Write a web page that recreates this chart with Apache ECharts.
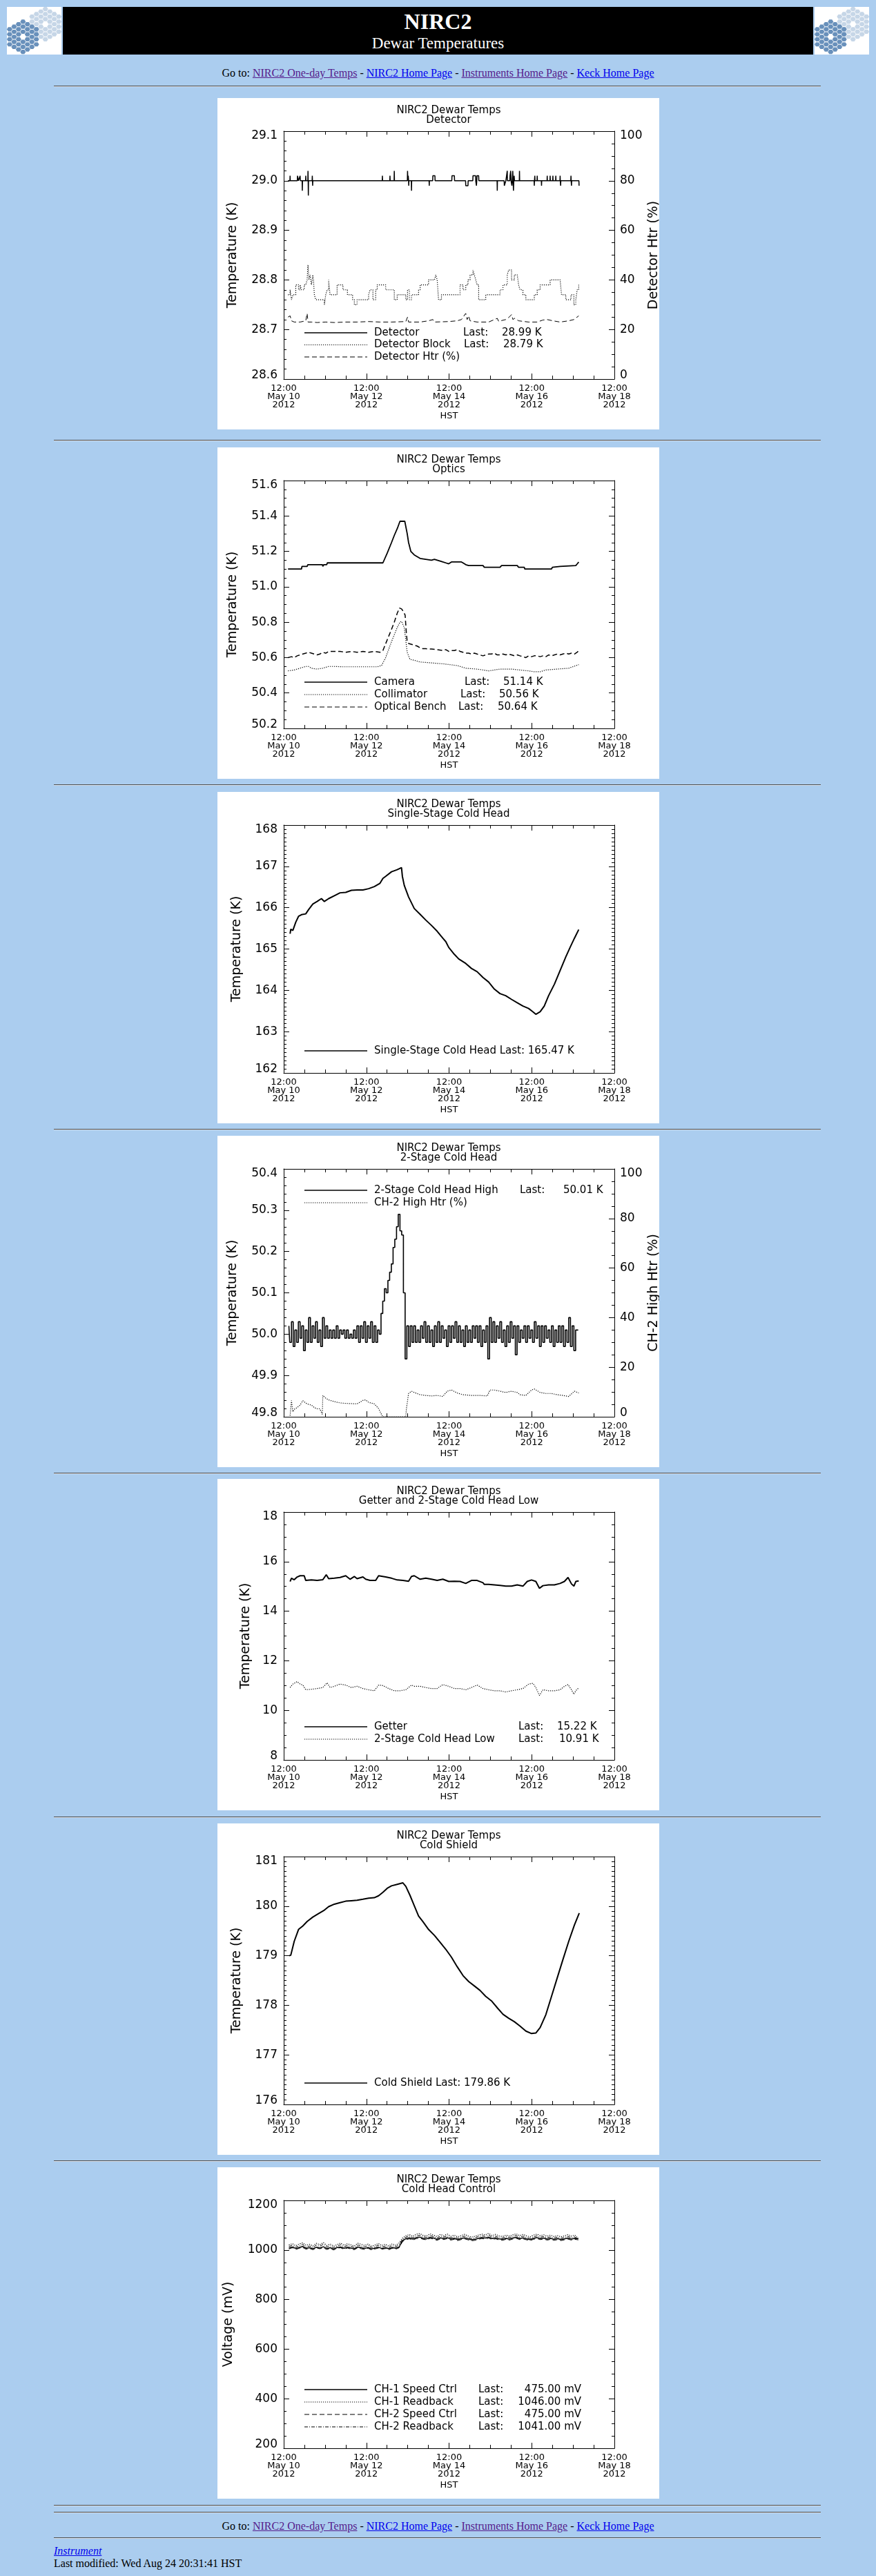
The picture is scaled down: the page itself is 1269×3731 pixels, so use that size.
<!DOCTYPE html>
<html>
<head>
<meta charset="utf-8">
<title>NIRC2 Dewar Temperatures</title>
<script src="https://cdn.jsdelivr.net/npm/echarts/dist/echarts.min.js"></script>
<style>
body{margin:0;background:#abcdef;font-family:"Liberation Serif","Times New Roman",serif;color:#000;}
#page{position:relative;width:1269px;height:3731px;overflow:hidden;}
.logo{position:absolute;top:10px;width:79px;height:69px;background:#fff;}
.banner{position:absolute;left:91px;top:10px;width:1087px;height:69px;background:#000;color:#fff;}
.t1{position:absolute;left:0;width:100%;top:5px;text-align:center;font-weight:bold;font-size:32px;line-height:32px;}
.t2{position:absolute;left:0;width:100%;top:41px;text-align:center;font-size:23px;line-height:23px;}
.goto{position:absolute;left:0;width:1269px;text-align:center;font-size:16px;line-height:16px;}
.foot{position:absolute;left:78px;font-size:16px;line-height:16px;}
a{color:#0000ee;text-decoration:underline;}
a.v{color:#551a8b;}
.hr{position:absolute;left:78px;width:1111px;height:0;border-top:1px solid #505050;border-bottom:1px solid #d4dce6;}
.chart{position:absolute;left:315px;width:640px;height:480px;background:#fff;}
</style>
</head>
<body>
<div id="page">
  <div class="logo" id="logoL" style="left:10px"></div>
  <div class="banner"><div class="t1">NIRC2</div><div class="t2">Dewar Temperatures</div></div>
  <div class="logo" id="logoR" style="left:1180px"></div>
  <div class="goto" style="top:98px">Go to: <a class="v" href="#">NIRC2 One-day Temps</a> - <a href="#">NIRC2 Home Page</a> - <a class="v" href="#">Instruments Home Page</a> - <a href="#">Keck Home Page</a></div>
  <div class="goto" style="top:3651px">Go to: <a class="v" href="#">NIRC2 One-day Temps</a> - <a href="#">NIRC2 Home Page</a> - <a class="v" href="#">Instruments Home Page</a> - <a href="#">Keck Home Page</a></div>
  <div class="foot" style="top:3687px"><a href="#"><i>Instrument</i></a></div>
  <div class="foot" style="top:3705px">Last modified: Wed Aug 24 20:31:41 HST</div>
</div>
<script>
// ---- data (hours since 12:00 May 10 2012) ----
var xTickLabels = ['12:00\nMay 10\n2012', '12:00\nMay 12\n2012', '12:00\nMay 14\n2012', '12:00\nMay 16\n2012', '12:00\nMay 18\n2012'];

// Detector
var detectorK = [
  [2.5,29.00],[3.6,29.00],[3.7,29.01],[3.8,29.00],
  [7.9,29.00],[8.0,29.01],[8.5,29.01],[8.6,29.00],[9.4,29.00],[9.5,29.01],[9.7,29.00],
  [10.7,29.00],[10.8,28.98],[10.9,29.00],[12.7,29.00],[12.8,29.01],[12.9,29.00],
  [14.0,29.00],[14.1,29.02],[14.2,29.00],[14.3,28.97],[14.4,29.00],
  [16.5,29.00],[16.6,29.01],[16.7,29.00],[16.8,28.99],[16.9,29.00],
  [57.2,29.00],[57.3,29.01],[57.4,29.00],[61.6,29.00],[61.7,29.01],[61.8,29.00],
  [64.1,29.00],[64.2,29.02],[64.3,29.00],
  [71.8,29.00],[71.9,29.02],[72.1,29.00],[72.3,29.01],[72.5,29.00],[72.6,28.99],[72.7,29.00],
  [74.1,29.00],[74.2,28.98],[74.3,29.00],[84.4,29.00],[84.5,28.99],[84.6,29.00],
  [86.5,29.00],[86.6,29.01],[87.8,29.01],[87.9,29.00],[97.6,29.00],[97.7,29.01],[99.1,29.01],[99.2,29.00],
  [105.6,29.00],[105.7,28.99],[107.0,28.99],[107.1,29.00],
  [109.8,29.00],[109.9,29.01],[111.4,29.01],[111.5,29.00],[111.9,28.99],[112.1,29.00],[112.2,29.01],[113.2,29.01],[113.3,29.00],
  [123.9,29.00],[124.0,28.98],[124.1,29.00],[128.0,29.00],[128.1,28.99],[128.9,28.99],[129.0,29.00],
  [129.7,29.00],[129.8,29.02],[129.9,29.00],
  [131.3,29.00],[131.4,29.01],[131.8,29.02],[132.0,29.00],[132.5,28.99],[132.7,29.00],[133.0,29.02],[133.2,29.00],[133.4,28.98],[133.6,29.00],[133.8,29.01],[134.0,29.00],
  [136.8,29.00],[136.9,29.02],[137.0,29.00],
  [145.4,29.00],[145.5,28.99],[145.6,29.00],[145.8,29.01],[145.9,29.00],[147.1,29.00],[147.2,29.01],[147.3,29.00],
  [149.6,29.00],[149.7,28.99],[149.8,29.00],
  [152.9,29.00],[153.0,29.01],[153.1,29.00],[154.6,29.00],[154.7,29.01],[154.8,29.00],[156.2,29.00],[156.3,29.01],[156.4,29.00],[157.9,29.00],[158.0,29.01],[158.1,29.00],
  [160.4,29.00],[160.5,29.01],[160.6,29.00],[160.8,28.99],[160.9,29.00],
  [166.7,29.00],[166.8,29.01],[166.9,29.00],[167.1,28.99],[167.2,29.00],
  [171.4,29.00],[171.5,28.99],[171.6,28.99]
];
var detBlockK = [
  [2.5,28.77],[3.7,28.78],[4.5,28.76],[5.3,28.77],[6.1,28.77],[7.0,28.79],[7.8,28.79],[8.6,28.78],[9.5,28.79],[10.3,28.78],
  [11.1,28.78],[11.9,28.79],[12.8,28.79],[13.6,28.80],[14.1,28.83],[14.6,28.80],[15.3,28.81],[16.1,28.79],[16.9,28.81],[17.3,28.80],
  [17.8,28.77],[18.6,28.76],[19.4,28.76],[21.0,28.76],[22.7,28.76],[23.6,28.75],[24.4,28.77],[25.2,28.78],[26.1,28.80],[26.9,28.77],
  [28.5,28.77],[29.4,28.77],[31.0,28.79],[32.7,28.79],[34.4,28.78],[36.0,28.78],[37.0,28.77],[38.5,28.77],[40.0,28.76],[41.0,28.75],
  [42.6,28.76],[44.3,28.76],[46.0,28.76],[47.6,28.76],[49.3,28.77],[50.1,28.78],[51.8,28.76],[53.4,28.78],[54.3,28.79],[55.9,28.79],
  [57.6,28.79],[59.2,28.78],[60.9,28.78],[62.6,28.78],[64.2,28.76],[65.9,28.77],[67.5,28.77],[69.2,28.77],[70.9,28.76],[71.9,28.78],
  [73.0,28.76],[74.2,28.77],[75.8,28.77],[76.7,28.77],[78.3,28.78],[79.2,28.79],[80.8,28.79],[82.5,28.79],[84.1,28.80],[85.0,28.80],
  [86.6,28.80],[87.5,28.80],[88.3,28.81],[89.1,28.80],[89.9,28.76],[91.6,28.77],[92.4,28.77],[95.8,28.77],[97.4,28.77],[99.1,28.77],
  [100.7,28.77],[102.4,28.79],[103.2,28.79],[104.1,28.78],[105.7,28.79],[107.0,28.80],[108.2,28.81],[109.9,28.82],[110.7,28.81],[111.5,28.80],
  [112.3,28.79],[113.2,28.76],[114.0,28.76],[115.7,28.76],[117.3,28.77],[119.0,28.77],[120.6,28.77],[122.3,28.77],[124.0,28.77],[125.6,28.78],
  [127.3,28.79],[128.9,28.79],[129.8,28.81],[130.6,28.82],[131.4,28.82],[132.3,28.80],[133.1,28.80],[133.9,28.81],[135.6,28.81],[136.4,28.79],
  [137.2,28.78],[138.9,28.77],[140.6,28.76],[142.2,28.76],[143.9,28.76],[145.5,28.77],[147.2,28.78],[148.0,28.78],[148.9,28.79],[150.5,28.79],
  [152.2,28.79],[153.0,28.79],[154.7,28.80],[155.5,28.80],[156.3,28.80],[158.0,28.80],[158.8,28.80],[160.5,28.80],[161.3,28.77],[162.1,28.77],
  [163.8,28.76],[165.5,28.76],[166.8,28.77],[167.6,28.77],[168.5,28.75],[169.6,28.76],[170.4,28.78],[171.3,28.79]
];
var detHtrPct = [
  [2.5,25],[3.7,25.5],[4.5,23.5],[6.1,23],[9.5,23],[12.8,23.5],[13.6,26.5],[14.1,23],[16.1,23],[19.4,22.8],
  [24.4,23],[29.4,22.8],[36.0,23],[42.6,23],[49.3,23.2],[55.9,23],[62.6,23],[70.9,23.2],[71.9,25],[72.5,23],
  [79.2,23],[84.1,23.5],[86.6,24],[87.5,23],[95.8,23.2],[100.7,23.5],[103.2,24],[105.7,26.5],[106.5,24],[107.4,25.5],
  [108.2,23.5],[112.3,23],[119.0,23],[124.0,24.5],[124.8,23.3],[128.9,24],[130.6,24.8],[132.3,26],[133.1,24],[134.0,24.5],
  [136.4,23.5],[142.2,23],[147.2,23],[150.5,23.8],[153.0,24],[156.3,23.5],[160.5,23],[165.5,23.5],[168.5,24],[171.3,25.5]
];

// Optics
var cameraK = [
  [2.5,51.10],[4.0,51.10],[4.5,51.095],[5.0,51.10],[10.3,51.10],[10.6,51.115],[13.6,51.115],[14.0,51.125],[22.5,51.125],[22.7,51.115],
  [23.3,51.125],[25.0,51.125],[25.3,51.135],[57.6,51.135],[60.1,51.19],[62.6,51.25],[64.2,51.29],[66.0,51.33],[67.5,51.37],[70.3,51.37],
  [71.7,51.30],[72.5,51.25],[73.8,51.20],[75.8,51.18],[79.2,51.16],[82.5,51.155],[85.8,51.15],[87.5,51.155],[90.8,51.145],[92.4,51.14],
  [94.1,51.135],[95.8,51.13],[96.4,51.135],[97.4,51.14],[100.7,51.14],[101.5,51.145],[103.2,51.14],[104.1,51.135],[105.7,51.125],[107.4,51.12],
  [115.7,51.12],[116.5,51.11],[125.6,51.11],[126.5,51.12],[135.6,51.12],[136.4,51.11],[139.7,51.11],[140.0,51.10],[155.5,51.10],[156.0,51.11],
  [160.5,51.115],[161.0,51.12],[169.6,51.12],[170.5,51.13],[171.3,51.14]
];
var collimatorK = [
  [2.5,50.525],[6.1,50.53],[9.5,50.54],[12.8,50.55],[14.4,50.55],[16.1,50.54],[19.4,50.535],[22.7,50.54],[26.1,50.55],[29.4,50.55],
  [34.4,50.548],[39.3,50.548],[44.3,50.548],[49.3,50.548],[54.3,50.548],[56.8,50.555],[59.2,50.60],[62.6,50.69],[65.9,50.77],[67.5,50.80],
  [68.4,50.805],[70.0,50.77],[71.7,50.63],[73.3,50.59],[75.8,50.585],[79.2,50.575],[85.8,50.57],[92.4,50.565],[100.7,50.555],[105.7,50.54],
  [112.3,50.535],[119.0,50.525],[125.6,50.535],[132.3,50.535],[138.9,50.528],[142.2,50.525],[145.5,50.52],[148.9,50.52],[152.2,50.53],[158.8,50.535],
  [165.5,50.54],[171.3,50.56]
];
var benchK = [
  [2.5,50.60],[4.5,50.605],[6.1,50.60],[7.8,50.61],[9.5,50.615],[11.1,50.62],[12.8,50.625],[14.4,50.63],[16.1,50.625],[17.8,50.62],
  [19.4,50.615],[21.0,50.62],[22.7,50.63],[24.4,50.625],[26.1,50.635],[29.4,50.635],[32.7,50.635],[36.0,50.63],[39.3,50.635],[42.6,50.63],
  [46.0,50.635],[49.3,50.63],[52.6,50.635],[55.9,50.63],[57.6,50.64],[60.1,50.70],[62.6,50.76],[64.2,50.80],[65.9,50.85],[67.2,50.88],
  [68.4,50.875],[69.5,50.86],[70.5,50.84],[71.2,50.74],[71.7,50.69],[72.5,50.68],[74.2,50.675],[75.8,50.67],[77.5,50.665],[79.2,50.655],
  [80.8,50.65],[82.5,50.65],[85.8,50.648],[89.1,50.645],[92.4,50.64],[94.1,50.645],[95.8,50.635],[97.4,50.64],[99.1,50.64],[100.7,50.645],
  [102.4,50.635],[104.1,50.63],[105.7,50.625],[107.4,50.625],[109.0,50.62],[110.7,50.625],[112.3,50.62],[114.0,50.615],[115.7,50.61],[117.3,50.615],
  [119.0,50.62],[120.6,50.62],[122.3,50.625],[124.0,50.615],[125.6,50.615],[127.3,50.62],[129.0,50.615],[130.6,50.62],[132.3,50.615],[134.0,50.61],
  [135.6,50.615],[137.2,50.61],[139.0,50.605],[140.6,50.60],[142.2,50.61],[143.9,50.605],[145.5,50.61],[147.2,50.61],[148.9,50.605],[150.5,50.61],
  [152.2,50.605],[153.8,50.615],[155.5,50.61],[157.2,50.615],[158.8,50.62],[160.5,50.615],[162.1,50.62],[163.8,50.625],[165.5,50.62],[167.1,50.625],
  [168.8,50.62],[170.4,50.63],[171.3,50.64]
];

// Single-stage cold head
var singleStageK = [
  [3.7,165.37],[4.1,165.48],[5.3,165.45],[7.0,165.65],[8.6,165.79],[10.3,165.83],[12.8,165.85],[14.4,165.95],[16.9,166.09],[19.4,166.15],
  [21.9,166.22],[23.6,166.15],[26.1,166.22],[29.4,166.29],[32.7,166.36],[36.0,166.37],[39.3,166.42],[42.6,166.43],[46.0,166.43],[49.3,166.46],
  [52.6,166.51],[55.9,166.59],[57.6,166.71],[59.2,166.76],[62.6,166.87],[65.9,166.92],[68.4,166.97],[68.9,166.76],[70.0,166.54],[72.5,166.26],
  [75.8,165.98],[79.2,165.84],[82.5,165.70],[85.8,165.57],[89.1,165.43],[92.4,165.26],[94.1,165.18],[95.8,165.04],[99.1,164.87],[101.6,164.76],
  [105.7,164.65],[109.0,164.53],[112.3,164.45],[115.7,164.31],[119.0,164.20],[122.3,164.03],[125.6,163.92],[128.9,163.87],[132.3,163.78],[135.6,163.70],
  [138.9,163.62],[142.2,163.56],[144.7,163.48],[146.4,163.42],[148.9,163.48],[151.3,163.62],[153.8,163.87],[157.2,164.15],[160.5,164.48],[163.8,164.81],
  [166.3,165.04],[168.8,165.26],[171.3,165.47]
];

// 2-stage cold head high, hourly from hour 3
var coldHighStart = 3;
var coldHighK = [
  50.02,49.98,50.03,49.97,50.01,49.98,50.03,49.99,50.02,49.96,
  50.01,49.98,50.04,49.98,50.02,49.99,50.03,49.98,50.01,49.97,
  50.04,49.99,50.02,49.99,50.01,49.99,50.01,49.99,50.02,49.99,
  50.01,50.00,50.01,49.99,50.01,49.99,50.00,49.99,50.01,49.99,
  50.02,49.98,50.02,49.99,50.03,49.98,50.02,49.99,50.03,49.98,
  50.02,49.98,50.01,
  50.00,50.05,50.08,50.11,50.10,50.13,50.15,50.17,50.21,50.23,50.26,50.29,50.25,50.24,50.10,
  49.94,50.02,49.97,50.02,49.98,50.02,49.98,50.01,49.98,50.02,
  49.99,50.03,49.98,50.02,49.98,50.01,49.97,50.02,49.98,50.03,
  49.98,50.02,49.99,50.01,49.97,50.02,49.98,50.02,49.99,50.03,
  49.98,50.02,49.98,50.01,49.97,50.02,49.98,50.01,49.98,50.02,
  49.99,50.02,49.98,50.02,49.97,50.01,49.98,50.02,49.94,50.04,
  49.98,50.03,49.98,50.02,49.99,50.03,49.98,50.01,49.97,50.02,
  49.98,50.03,49.99,50.02,49.95,50.02,49.98,50.01,49.99,50.02,
  49.98,50.02,49.99,50.01,49.98,50.03,49.99,50.02,49.97,50.02,
  49.98,50.02,49.99,50.01,49.98,50.02,49.97,50.01,49.98,50.02,
  49.98,50.02,49.97,50.01,49.98,50.04,49.97,50.02,49.96,50.01,
  50.01
];
var ch2HtrPct = [
  [3.7,0.5],[4.5,6.5],[5.3,2],[6.1,3],[7.8,3.7],[9.5,4.7],[11.1,6.5],[12.8,5.5],[14.4,5],[16.1,4.7],
  [17.8,3.7],[19.4,3.2],[21.0,3.2],[22.4,1],[22.7,8.6],[24.4,7.5],[26.1,6.8],[29.4,6.1],[32.7,5.6],[36.0,5.4],
  [39.3,5.3],[42.6,5.2],[46.0,6.6],[47.6,6.8],[49.3,5.8],[52.6,5.2],[55.1,3.3],[56.8,0.9],[57.6,0],[70.9,0],
  [71.2,3],[72.5,9.4],[74.2,10.3],[75.8,9.8],[79.2,8.9],[82.5,8.6],[85.8,8.4],[89.1,8.6],[92.4,8.2],[94.9,10.3],
  [97.4,10.8],[100.7,9.6],[104.1,8.9],[109.0,8.6],[114.0,8.6],[118.2,8.4],[119.8,10.8],[122.3,10.8],[125.6,10.3],[128.9,9.8],
  [132.3,10.3],[135.6,9.8],[137.2,8.9],[140.6,8.6],[143.9,10.8],[145.5,11.2],[148.9,9.8],[152.2,9.4],[155.5,9.4],[158.8,8.9],
  [162.1,8.6],[165.5,8.2],[168.8,10.3],[171.3,9.6]
];

// Getter and 2-stage cold head low
var getterK = [
  [3.7,15.20],[4.5,15.33],[6.1,15.27],[7.8,15.38],[9.5,15.43],[11.9,15.43],[12.8,15.24],[16.1,15.26],[19.4,15.24],[22.7,15.27],
  [24.7,15.47],[26.1,15.31],[29.4,15.33],[32.7,15.36],[36.0,15.43],[38.5,15.29],[41.0,15.40],[42.6,15.31],[46.0,15.38],[47.6,15.29],
  [50.1,15.24],[53.4,15.24],[55.1,15.43],[59.2,15.38],[62.6,15.33],[65.9,15.26],[69.2,15.24],[72.5,15.21],[74.2,15.40],[75.8,15.43],
  [79.2,15.29],[82.5,15.33],[85.8,15.29],[89.1,15.24],[92.4,15.29],[95.8,15.20],[99.1,15.21],[102.4,15.20],[105.7,15.12],[109.0,15.24],
  [112.3,15.24],[115.7,15.15],[116.5,15.08],[119.0,15.08],[122.3,15.06],[125.6,15.04],[128.9,15.01],[132.3,15.01],[135.6,15.06],[138.9,15.01],
  [141.4,15.20],[143.9,15.26],[146.4,15.20],[148.5,14.92],[150.5,15.03],[153.8,15.06],[157.2,15.06],[160.5,15.12],[163.0,15.20],[165.1,15.36],
  [167.1,15.10],[168.5,15.01],[169.6,15.20],[171.3,15.22]
];
var coldLowK = [
  [3.7,10.92],[5.3,11.06],[7.8,11.16],[9.5,11.06],[11.1,11.02],[12.8,10.83],[16.1,10.85],[19.4,10.88],[22.7,10.92],[25.2,11.11],
  [26.9,10.92],[29.4,10.97],[32.7,11.06],[36.0,11.02],[39.3,10.92],[42.6,10.97],[46.0,10.88],[49.3,10.83],[52.6,10.79],[55.1,11.02],
  [57.6,11.00],[60.9,10.88],[64.2,10.79],[67.5,10.79],[70.9,10.83],[74.2,11.02],[75.8,10.97],[79.2,10.97],[82.5,10.92],[85.8,10.88],
  [89.1,10.88],[92.4,11.04],[95.8,10.97],[99.1,10.88],[102.4,10.88],[105.7,10.83],[109.0,10.92],[112.3,11.02],[115.7,10.88],[119.0,10.83],
  [122.3,10.79],[125.6,10.79],[128.9,10.74],[132.3,10.79],[135.6,10.83],[138.9,10.88],[142.2,11.06],[144.7,11.09],[146.4,10.92],[148.5,10.60],
  [150.5,10.83],[153.8,10.79],[157.2,10.79],[160.5,10.83],[163.0,10.97],[165.1,11.04],[167.1,10.83],[168.5,10.65],[169.6,10.79],[171.3,10.91]
];

// Cold shield
var coldShieldK = [
  [3.2,179.00],[4.1,179.01],[6.1,179.29],[8.6,179.53],[11.1,179.60],[13.6,179.69],[16.9,179.78],[20.2,179.85],[23.6,179.92],[26.1,179.99],
  [29.4,180.04],[32.7,180.07],[36.0,180.10],[39.3,180.11],[42.6,180.12],[46.0,180.14],[49.3,180.16],[52.6,180.17],[55.1,180.21],[57.6,180.28],
  [60.1,180.36],[62.6,180.41],[65.9,180.44],[69.2,180.47],[70.9,180.40],[73.3,180.22],[75.8,180.01],[78.3,179.80],[80.8,179.69],[84.1,179.53],
  [87.5,179.41],[90.8,179.27],[94.1,179.13],[97.4,178.97],[100.7,178.78],[104.1,178.60],[107.4,178.48],[110.7,178.39],[114.0,178.30],[117.3,178.18],
  [120.6,178.09],[124.0,177.95],[127.3,177.82],[130.6,177.74],[133.9,177.67],[137.2,177.58],[140.6,177.48],[143.9,177.43],[146.4,177.44],[148.9,177.55],
  [152.2,177.81],[155.5,178.18],[158.8,178.55],[162.1,178.92],[165.5,179.29],[168.8,179.62],[171.6,179.86]
];

// Cold head control, every 2 hours from hour 3
var ctrlStart = 3, ctrlStep = 2;
var ch1SpeedMv = [
  1008,1012,1006,1010,1014,1007,1009,1005,1011,1008,1013,1006,1009,1004,1010,1012,1007,1011,1008,1005,
  1012,1009,1006,1010,1004,1008,1011,1006,1009,1005,1010,1007,1012,
  1038,1046,1049,1044,1050,1052,1047,1045,1051,1048,1043,1049,1046,1050,1044,1047,1042,1046,1049,1045,
  1041,1043,1047,1050,1048,1052,1046,1049,1045,1043,1047,1044,1048,1051,1046,1049,1045,1042,1047,1050,
  1046,1048,1044,1047,1043,1046,1042,1045,1048,1044,1047,1046
];
var ch1ReadMv = [
  1020,1026,1017,1024,1029,1019,1023,1016,1027,1021,1030,1018,1024,1015,1022,1028,1019,1025,1021,1016,
  1027,1023,1018,1024,1015,1020,1026,1018,1023,1016,1025,1019,1028,
  1048,1058,1062,1055,1064,1066,1059,1057,1065,1060,1054,1063,1058,1064,1055,1060,1053,1058,1063,1057,
  1052,1055,1060,1064,1061,1067,1058,1063,1057,1054,1060,1056,1061,1065,1058,1063,1057,1053,1060,1064,
  1058,1061,1056,1060,1054,1058,1053,1057,1062,1056,1060,1046
];
var ch2SpeedMv = [
  1004,1009,1002,1007,1010,1003,1006,1001,1008,1005,1009,1002,1006,1000,1007,1009,1003,1008,1004,1001,
  1009,1005,1002,1007,1000,1004,1008,1003,1006,1001,1007,1003,1009,
  1034,1042,1045,1040,1046,1048,1043,1041,1047,1044,1039,1045,1042,1046,1040,1043,1038,1042,1045,1041,
  1037,1039,1043,1046,1044,1048,1042,1045,1041,1039,1043,1040,1044,1047,1042,1045,1041,1038,1043,1046,
  1042,1044,1040,1043,1039,1042,1038,1041,1044,1040,1043,1041
];
var ch2ReadMv = [
  1014,1019,1011,1017,1022,1013,1016,1010,1020,1015,1023,1012,1017,1009,1016,1021,1013,1018,1015,1010,
  1020,1016,1012,1018,1009,1014,1019,1012,1016,1010,1018,1013,1021,
  1043,1052,1056,1049,1057,1059,1053,1051,1058,1054,1048,1056,1052,1057,1049,1053,1047,1052,1056,1050,
  1046,1049,1054,1057,1055,1060,1052,1056,1050,1048,1054,1050,1055,1058,1052,1056,1050,1047,1053,1057,
  1052,1054,1050,1053,1048,1052,1047,1051,1055,1050,1053,1041
];

// ---- helpers ----
var FONT = '"DejaVu Sans", sans-serif';
var SOLID = 'solid', DOT = [1.2, 1.8], DASH = [7, 4], DASHDOT = [5, 2, 1, 2];

function sampled(start, step, vals) {
  return vals.map(function (v, i) { return [start + i * step, v]; });
}

function xAxes() {
  function one(pos, withLabels) {
    return {
      type: 'value', position: pos, min: 0, max: 192, interval: 48,
      axisLine: {show: true, onZero: false, lineStyle: {color: '#000', width: 1}},
      axisTick: {show: true, inside: true, length: 8, lineStyle: {color: '#000', width: 1}},
      minorTick: {show: true, splitNumber: 4, length: 5, lineStyle: {color: '#000', width: 1}},
      splitLine: {show: false}, minorSplitLine: {show: false},
      axisLabel: withLabels ? {
        show: true, margin: 8, color: '#000', fontFamily: FONT, fontSize: 13, lineHeight: 12,
        formatter: function (v) { return xTickLabels[Math.round(v / 48)]; }
      } : {show: false},
      name: withLabels ? 'HST' : '', nameLocation: 'middle', nameGap: 47, nameMoveOverlap: false,
      nameTextStyle: {color: '#000', fontFamily: FONT, fontSize: 13}
    };
  }
  return [one('bottom', true), one('top', false)];
}

function yAxis(c, pos, withLabels) {
  var rich = {
    t: {padding: [14, 0, 0, 0], color: '#000', fontFamily: FONT, fontSize: 17},
    b: {padding: [0, 0, 10, 0], color: '#000', fontFamily: FONT, fontSize: 17}
  };
  return {
    type: 'value', position: pos, min: c.min, max: c.max, interval: c.interval,
    axisLine: {show: true, onZero: false, lineStyle: {color: '#000', width: 1}},
    axisTick: {show: true, inside: true, length: 8, lineStyle: {color: '#000', width: 1}},
    minorTick: {show: true, splitNumber: c.minor, length: 4, lineStyle: {color: '#000', width: 1}},
    splitLine: {show: false}, minorSplitLine: {show: false},
    axisLabel: withLabels ? {
      show: true, margin: pos === 'left' ? 9 : 8, color: '#000', fontFamily: FONT, fontSize: 17, rich: rich,
      formatter: function (v) {
        var s = v.toFixed(c.dec);
        if (Math.abs(v - c.max) < 1e-6) return '{t|' + s + '}';
        if (Math.abs(v - c.min) < 1e-6) return '{b|' + s + '}';
        return s;
      }
    } : {show: false},
    name: withLabels ? c.name : '', nameLocation: 'middle', nameGap: c.gap, nameRotate: 90, nameMoveOverlap: false,
    nameTextStyle: {color: '#000', fontFamily: FONT, fontSize: 19}
  };
}

function txt(x, y, s, align) {
  return {
    type: 'text', x: x, y: y, silent: true,
    style: {text: s, fill: '#000', font: '15px ' + FONT, align: align, verticalAlign: 'middle',
            textAlign: align, textVerticalAlign: 'middle'}
  };
}

function buildGraphics(sub, rows) {
  var els = [txt(335, 18, 'NIRC2 Dewar Temps', 'center'), txt(335, 32, sub, 'center')];
  rows.forEach(function (r) {
    els.push({
      type: 'line', silent: true, shape: {x1: 126, y1: r.y, x2: 217, y2: r.y},
      style: {stroke: '#000', lineWidth: r.dash === SOLID ? 1.5 : 1.2, lineDash: r.dash === SOLID ? null : r.dash}
    });
    els.push(txt(227, r.y, r.name, 'left'));
    if (r.lastX) els.push(txt(r.lastX, r.y, 'Last:', 'left'));
    if (r.value) els.push(txt(r.valueX, r.y, r.value, r.valueAlign || 'left'));
  });
  return els;
}

function lineSeries(data, yIdx, dash, width, step) {
  return {
    type: 'line', data: data, xAxisIndex: 0, yAxisIndex: yIdx, showSymbol: false, symbol: 'none',
    silent: true, animation: false, z: dash === SOLID ? 4 : 3, step: step || false,
    lineStyle: {color: '#000', width: width, type: dash}
  };
}

var charts = [
  {top: 142, sub: 'Detector',
   y: {min: 28.6, max: 29.1, interval: 0.1, minor: 5, dec: 1, name: 'Temperature (K)', gap: 64},
   y2: {min: 0, max: 100, interval: 20, minor: 4, dec: 0, name: 'Detector Htr (%)', gap: 48},
   series: [lineSeries(detBlockK, 0, DOT, 1.2, 'end'), lineSeries(detHtrPct, 1, DASH, 1), lineSeries(detectorK, 0, SOLID, 1.5)],
   legend: [
     {y: 340, dash: SOLID, name: 'Detector', lastX: 356, value: '28.99 K', valueX: 412},
     {y: 357.5, dash: DOT, name: 'Detector Block', lastX: 357, value: '28.79 K', valueX: 414},
     {y: 375, dash: DASH, name: 'Detector Htr (%)'}
   ]},
  {top: 648, sub: 'Optics',
   y: {min: 50.2, max: 51.6, interval: 0.2, minor: 4, dec: 1, name: 'Temperature (K)', gap: 64},
   series: [lineSeries(collimatorK, 0, DOT, 1.2), lineSeries(benchK, 0, DASH, 1.5), lineSeries(cameraK, 0, SOLID, 1.8)],
   legend: [
     {y: 340, dash: SOLID, name: 'Camera', lastX: 358, value: '51.14 K', valueX: 414},
     {y: 358, dash: DOT, name: 'Collimator', lastX: 352, value: '50.56 K', valueX: 408},
     {y: 376, dash: DASH, name: 'Optical Bench', lastX: 349, value: '50.64 K', valueX: 406}
   ]},
  {top: 1147, sub: 'Single-Stage Cold Head',
   y: {min: 162, max: 168, interval: 1, minor: 10, dec: 0, name: 'Temperature (K)', gap: 58},
   series: [lineSeries(singleStageK, 0, SOLID, 2)],
   legend: [{y: 375, dash: SOLID, name: 'Single-Stage Cold Head Last: 165.47 K'}]},
  {top: 1645, sub: '2-Stage Cold Head',
   y: {min: 49.8, max: 50.4, interval: 0.1, minor: 5, dec: 1, name: 'Temperature (K)', gap: 64},
   y2: {min: 0, max: 100, interval: 20, minor: 4, dec: 0, name: 'CH-2 High Htr (%)', gap: 48},
   series: [lineSeries(ch2HtrPct, 1, DOT, 1.2), lineSeries(sampled(coldHighStart, 1, coldHighK), 0, SOLID, 1.6, 'middle')],
   legend: [
     {y: 79, dash: SOLID, name: '2-Stage Cold Head High', lastX: 438, value: '50.01 K', valueX: 501},
     {y: 97, dash: DOT, name: 'CH-2 High Htr (%)'}
   ]},
  {top: 2142, sub: 'Getter and 2-Stage Cold Head Low',
   y: {min: 8, max: 18, interval: 2, minor: 4, dec: 0, name: 'Temperature (K)', gap: 45},
   series: [lineSeries(coldLowK, 0, DOT, 1.2), lineSeries(getterK, 0, SOLID, 2)],
   legend: [
     {y: 359, dash: SOLID, name: 'Getter', lastX: 436, value: '15.22 K', valueX: 492},
     {y: 377, dash: DOT, name: '2-Stage Cold Head Low', lastX: 436, value: '10.91 K', valueX: 495}
   ]},
  {top: 2641, sub: 'Cold Shield',
   y: {min: 176, max: 181, interval: 1, minor: 10, dec: 0, name: 'Temperature (K)', gap: 58},
   series: [lineSeries(coldShieldK, 0, SOLID, 2)],
   legend: [{y: 376, dash: SOLID, name: 'Cold Shield Last: 179.86 K'}]},
  {top: 3139, sub: 'Cold Head Control',
   y: {min: 200, max: 1200, interval: 200, minor: 4, dec: 0, name: 'Voltage (mV)', gap: 70},
   series: [
     lineSeries(sampled(ctrlStart, ctrlStep, ch1ReadMv), 0, DOT, 1.2),
     lineSeries(sampled(ctrlStart, ctrlStep, ch2ReadMv), 0, DASHDOT, 1),
     lineSeries(sampled(ctrlStart, ctrlStep, ch2SpeedMv), 0, DASH, 1),
     lineSeries(sampled(ctrlStart, ctrlStep, ch1SpeedMv), 0, SOLID, 1.5)
   ],
   legend: [
     {y: 322, dash: SOLID, name: 'CH-1 Speed Ctrl', lastX: 378, value: '475.00 mV', valueX: 527, valueAlign: 'right'},
     {y: 340, dash: DOT, name: 'CH-1 Readback', lastX: 378, value: '1046.00 mV', valueX: 527, valueAlign: 'right'},
     {y: 358, dash: DASH, name: 'CH-2 Speed Ctrl', lastX: 378, value: '475.00 mV', valueX: 527, valueAlign: 'right'},
     {y: 376, dash: DASHDOT, name: 'CH-2 Readback', lastX: 378, value: '1041.00 mV', valueX: 527, valueAlign: 'right'}
   ]}
];

// ---- page furniture ----
var page = document.getElementById('page');
[124, 637, 1136, 1635, 2133, 2631, 3129, 3628, 3638, 3675].forEach(function (y) {
  var d = document.createElement('div');
  d.className = 'hr';
  d.style.top = y + 'px';
  page.appendChild(d);
});

function drawLogo(el) {
  var ns = 'http://www.w3.org/2000/svg';
  var svg = document.createElementNS(ns, 'svg');
  svg.setAttribute('width', '79');
  svg.setAttribute('height', '69');
  [[55.7, 25, '#c6d6e7'], [23.3, 43.3, '#6890bb']].forEach(function (m) {
    for (var q = -3; q <= 3; q++) {
      for (var r = -3; r <= 3; r++) {
        var d = Math.max(Math.abs(q), Math.abs(r), Math.abs(q + r));
        if (d < 1 || d > 3) continue;
        var cx = m[0] + 6.45 * q, cy = m[1] + 7.3 * (r + q / 2), pts = [];
        for (var k = 0; k < 6; k++) {
          var a = Math.PI / 3 * k;
          pts.push((cx + 4.0 * Math.cos(a)).toFixed(2) + ',' + (cy + 3.6 * Math.sin(a)).toFixed(2));
        }
        var p = document.createElementNS(ns, 'polygon');
        p.setAttribute('points', pts.join(' '));
        p.setAttribute('fill', m[2]);
        svg.appendChild(p);
      }
    }
  });
  el.appendChild(svg);
}
drawLogo(document.getElementById('logoL'));
drawLogo(document.getElementById('logoR'));

// ---- charts ----
charts.forEach(function (c) {
  var div = document.createElement('div');
  div.className = 'chart';
  div.style.top = c.top + 'px';
  page.appendChild(div);
  var yAxes = [yAxis(c.y, 'left', true), c.y2 ? yAxis(c.y2, 'right', true) : yAxis(c.y, 'right', false)];
  var chart = echarts.init(div, null, {renderer: 'canvas'});
  chart.setOption({
    animation: false,
    backgroundColor: '#fff',
    grid: {left: 96, right: 65, top: 48, bottom: 73, containLabel: false, outerBoundsMode: 'none'},
    xAxis: xAxes(),
    yAxis: yAxes,
    series: c.series,
    graphic: buildGraphics(c.sub, c.legend)
  });
});
</script>
</body>
</html>
